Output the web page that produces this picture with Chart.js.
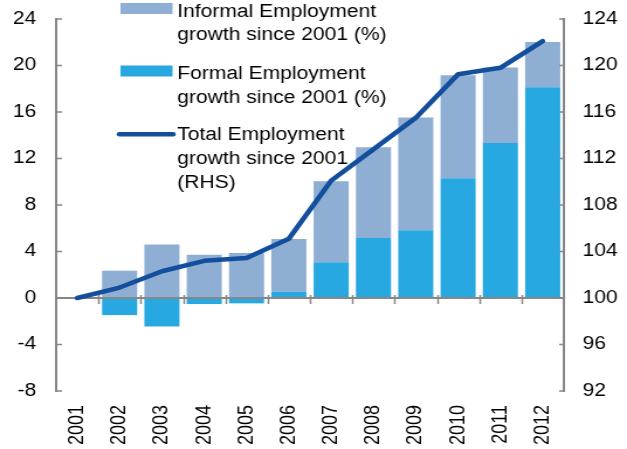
<!DOCTYPE html>
<html>
<head>
<meta charset="utf-8">
<script src="https://cdn.jsdelivr.net/npm/chart.js@4/dist/chart.umd.min.js"></script>
<style>
  html, body { margin: 0; padding: 0; background: #fff; overflow: hidden; }
  #wrap { width: 536px; height: 449px; transform: scaleX(1.1698); transform-origin: 0 0; }
</style>
</head>
<body>
<div id="wrap"><canvas id="c"></canvas></div>
<script>
// Employment growth since 2001
const years = ['2001','2002','2003','2004','2005','2006','2007','2008','2009','2010','2011','2012'];
// formal employment growth since 2001 (%)
const formalGrowth = [0, -1.47, -2.45, -0.52, -0.46, 0.54, 3.07, 5.17, 5.83, 10.31, 13.33, 18.13];
// informal employment contribution stacked on top (%)
const informalGrowth = [0, 2.35, 4.6, 3.73, 3.88, 4.54, 6.98, 7.79, 9.69, 8.85, 6.5, 3.9];
// total employment index, 2001 = 100 (right-hand scale)
const totalIndex = [100, 100.9, 102.3, 103.2, 103.45, 105.1, 110.1, 112.8, 115.5, 119.25, 119.8, 122.1];

const leftTicks = { min: -8, max: 24, step: 4 };
const rightTicks = { min: 92, max: 124, step: 4 };

const legendItems = [
  { kind: 'box', color: '#8FAED3', lines: ['Informal Employment', 'growth since 2001 (%)'] },
  { kind: 'box', color: '#28A8E0', lines: ['Formal Employment', 'growth since 2001 (%)'] },
  { kind: 'line', color: '#134F9C', lines: ['Total Employment', 'growth since 2001', '(RHS)'] }
];

const FONT = '"Liberation Sans", Arial, sans-serif';
const AXIS = '#878787';

// zero line, category tick marks and inward y ticks
const axisDecor = {
  id: 'axisDecor',
  beforeDatasetDraw(chart, args) {
    if (args.meta.type !== 'line') return;
    const ctx = chart.ctx, a = chart.chartArea;
    const x = chart.scales.x, y = chart.scales.y, y1 = chart.scales.y1;
    const y0 = y.getPixelForValue(0);
    ctx.save();
    ctx.strokeStyle = AXIS;
    ctx.lineWidth = 2;
    ctx.beginPath();
    ctx.moveTo(a.left, y0); ctx.lineTo(a.right, y0);
    ctx.stroke();
    ctx.lineWidth = 1.5;
    const half = (x.getPixelForValue(1) - x.getPixelForValue(0)) / 2;
    ctx.beginPath();
    for (let i = 1; i < years.length; i++) {
      const px = Math.round(x.getPixelForValue(i) - half) + 0.5;
      ctx.moveTo(px, y0 - 3); ctx.lineTo(px, y0 + 6);
    }
    ctx.stroke();
    ctx.beginPath();
    y.ticks.forEach(t => {
      const py = y.getPixelForValue(t.value);
      ctx.moveTo(a.left, py); ctx.lineTo(a.left + 5, py);
    });
    y1.ticks.forEach(t => {
      const py = y1.getPixelForValue(t.value);
      ctx.moveTo(a.right, py); ctx.lineTo(a.right - 4, py);
    });
    ctx.stroke();
    ctx.restore();
  }
};

// legend block at top left
const blockLegend = {
  id: 'blockLegend',
  afterDraw(chart) {
    const ctx = chart.ctx;
    const bx = 103, bw = 44.5, tx = 151.5;
    const baselines = [[16.5, 40], [79, 102.5], [140, 164, 188]];
    ctx.save();
    ctx.font = '18px ' + FONT;
    ctx.fillStyle = '#000';
    ctx.textBaseline = 'alphabetic';
    legendItems.forEach((it, i) => {
      const b = baselines[i];
      if (it.kind === 'box') {
        ctx.fillStyle = it.color;
        ctx.fillRect(bx, b[0] - 13.5, bw, 11);
      } else {
        ctx.strokeStyle = it.color;
        ctx.lineWidth = 4.5;
        ctx.lineCap = 'round';
        ctx.beginPath();
        ctx.moveTo(bx - 1, b[0] - 5.8); ctx.lineTo(bx + bw + 0.5, b[0] - 5.8);
        ctx.stroke();
      }
      ctx.fillStyle = '#000';
      it.lines.forEach((t, j) => ctx.fillText(t, tx, b[j]));
    });
    ctx.restore();
  }
};

function fixVertical(width) {
  return function (s) {
    s.width = width;
    s.paddingTop = 0;
    s.paddingBottom = 0;
  };
}

new Chart(document.getElementById('c'), {
  type: 'bar',
  data: {
    labels: years,
    datasets: [
      {
        type: 'line',
        label: 'Total Employment growth since 2001 (RHS)',
        data: totalIndex,
        yAxisID: 'y1',
        borderColor: '#134F9C',
        borderWidth: 4.5,
        borderCapStyle: 'round',
        borderJoinStyle: 'round',
        pointRadius: 0,
        tension: 0,
        order: 0
      },
      {
        label: 'Formal Employment growth since 2001 (%)',
        data: formalGrowth,
        backgroundColor: '#28A8E0',
        yAxisID: 'y',
        stack: 's',
        barPercentage: 0.83,
        categoryPercentage: 1,
        order: 1
      },
      {
        label: 'Informal Employment growth since 2001 (%)',
        data: informalGrowth,
        backgroundColor: '#8FAED3',
        yAxisID: 'y',
        stack: 's',
        barPercentage: 0.83,
        categoryPercentage: 1,
        order: 2
      }
    ]
  },
  options: {
    responsive: true,
    maintainAspectRatio: false,
    animation: false,
    layout: { padding: { top: 19, left: 0, right: 0, bottom: 0 } },
    plugins: { legend: { display: false }, tooltip: { enabled: false } },
    scales: {
      x: {
        stacked: true,
        offset: true,
        grid: { display: false, drawTicks: false },
        border: { display: false },
        ticks: {
          minRotation: 90, maxRotation: 90, padding: 14, color: '#000',
          font: { family: FONT, size: 18 }
        },
        afterFit(s) { s.height = 58; s.paddingLeft = 0; s.paddingRight = 0; }
      },
      y: {
        position: 'left',
        stacked: true,
        min: leftTicks.min, max: leftTicks.max,
        grid: { display: false, drawTicks: false },
        border: { display: true, color: AXIS, width: 2 },
        ticks: {
          stepSize: leftTicks.step, padding: 17, color: '#000',
          font: { family: FONT, size: 18 }
        },
        afterFit: fixVertical(48)
      },
      y1: {
        position: 'right',
        min: rightTicks.min, max: rightTicks.max,
        grid: { display: false, drawTicks: false },
        border: { display: true, color: AXIS, width: 2 },
        ticks: {
          stepSize: rightTicks.step, padding: 16, color: '#000',
          font: { family: FONT, size: 18 }
        },
        afterFit: fixVertical(54)
      }
    }
  },
  plugins: [axisDecor, blockLegend]
});
</script>
</body>
</html>
